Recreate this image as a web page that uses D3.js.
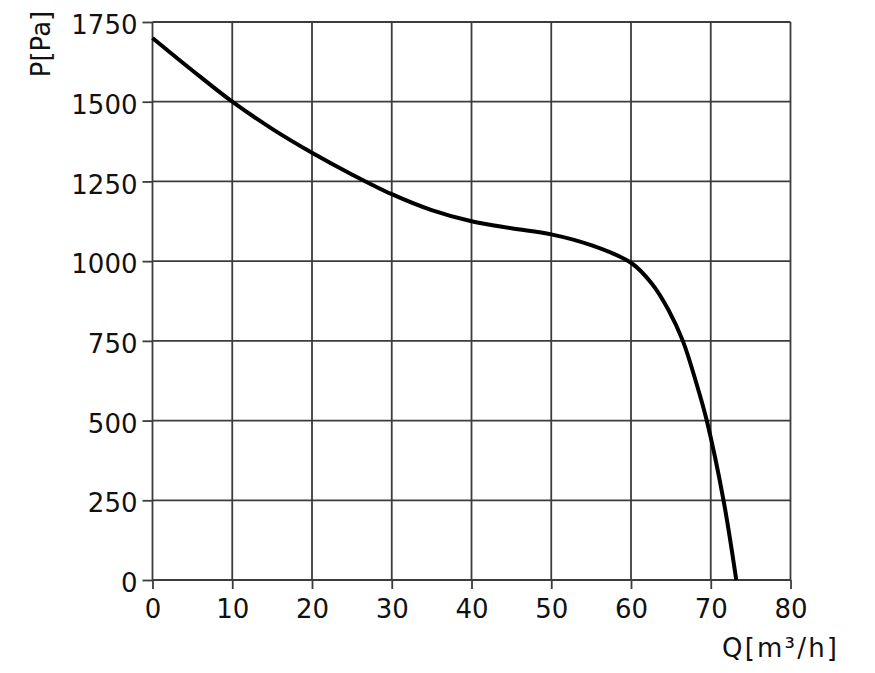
<!DOCTYPE html>
<html>
<head>
<meta charset="utf-8">
<script src="https://cdn.jsdelivr.net/npm/d3@7"></script>
<style>
  body { margin: 0; background: #fff; }
  text { font-family: "DejaVu Sans", Verdana, sans-serif; fill: #111; }
</style>
</head>
<body>
<svg width="875" height="673"></svg>
<script>
// fan curve: flow Q [m³/h] vs pressure P [Pa]
const flow     = [0, 5, 10, 15, 20, 25, 30, 35, 40, 45, 50, 55, 60, 62.6, 64.7, 66.5, 68.2, 69.5, 71.6, 73.2];
const pressure = [1700, 1598, 1500, 1415, 1340, 1272, 1210, 1160, 1125, 1103, 1084, 1050, 995, 930, 847, 750, 617, 500, 250, 0];

const xTicks = [0, 10, 20, 30, 40, 50, 60, 70, 80];
const yTicks = [0, 250, 500, 750, 1000, 1250, 1500, 1750];

const xLabel = "Q[m³/h]";
const yLabel = "P[Pa]";

const svg = d3.select("svg");

const x = d3.scaleLinear().domain([0, 80]).range([152.5, 790.5]);
const y = d3.scaleLinear().domain([0, 1750]).range([580, 22]);

const gridColor = "#3c3c3c";

// grid lines
svg.append("g")
    .selectAll("line")
    .data(yTicks)
    .join("line")
    .attr("x1", x(0))
    .attr("x2", x(80))
    .attr("y1", d => y(d))
    .attr("y2", d => y(d))
    .attr("stroke", gridColor)
    .attr("stroke-width", 1.8);

svg.append("g")
    .selectAll("line")
    .data(xTicks)
    .join("line")
    .attr("x1", d => x(d))
    .attr("x2", d => x(d))
    .attr("y1", y(1750))
    .attr("y2", y(0))
    .attr("stroke", gridColor)
    .attr("stroke-width", 1.8);

// axes (ticks stick out of the grid)
const yAxis = svg.append("g")
    .attr("transform", `translate(${x(0)},0)`)
    .call(d3.axisLeft(y).tickValues(yTicks).tickFormat(d3.format("d"))
        .tickSize(10).tickPadding(5));

const xAxis = svg.append("g")
    .attr("transform", `translate(0,${y(0)})`)
    .call(d3.axisBottom(x).tickValues(xTicks).tickFormat(d3.format("d"))
        .tickSize(9).tickPadding(11));

[yAxis, xAxis].forEach(g => {
    g.select(".domain").remove();
    g.selectAll(".tick line").attr("stroke", gridColor).attr("stroke-width", 1.8);
    g.selectAll(".tick text")
        .style("font-family", '"DejaVu Sans", Verdana, sans-serif')
        .style("font-size", "26px")
        .attr("fill", "#111");
});
yAxis.selectAll(".tick text").attr("dy", "0.45em");

// curve
const pts = flow.map((q, i) => [q, pressure[i]]);
svg.append("path")
    .datum(pts)
    .attr("fill", "none")
    .attr("stroke", "#000")
    .attr("stroke-width", 4)
    .attr("d", d3.line()
        .x(d => x(d[0]))
        .y(d => y(d[1]))
        .curve(d3.curveCatmullRom.alpha(0.5)));

// axis titles
svg.append("text")
    .attr("transform", "translate(50,44) rotate(-90)")
    .attr("text-anchor", "middle")
    .style("font-size", "26px")
    .text(yLabel);

svg.append("text")
    .attr("x", 722)
    .attr("y", 657)
    .attr("textLength", 115)
    .attr("lengthAdjust", "spacing")
    .style("font-size", "26px")
    .text(xLabel);
</script>
</body>
</html>
